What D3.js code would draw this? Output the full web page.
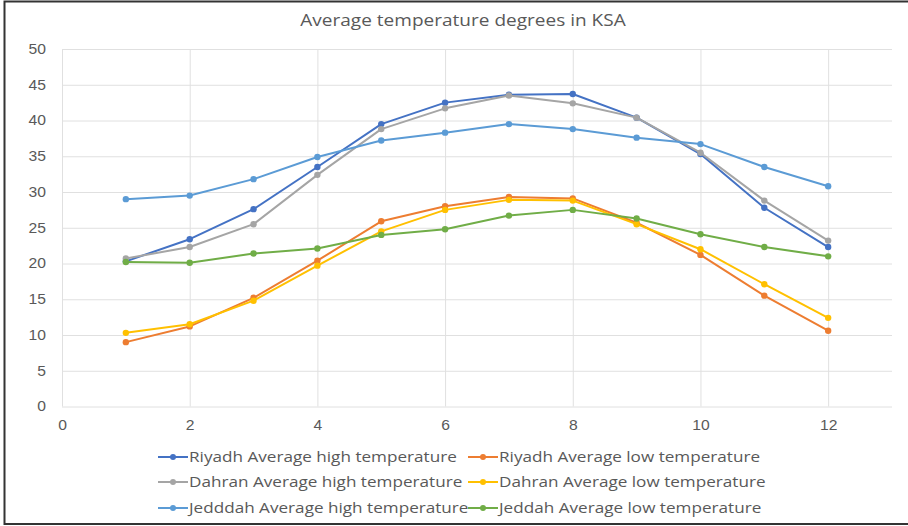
<!DOCTYPE html>
<html>
<head>
<meta charset="utf-8">
<script src="https://cdn.jsdelivr.net/npm/d3@7"></script>
<style>
  html, body { margin: 0; padding: 0; background: #fff; }
  svg { display: block; font-family: 'Open Sans', sans-serif; }
</style>
</head>
<body>
<svg id="chart" width="908" height="526"></svg>
<script>
// Data
const months = [1, 2, 3, 4, 5, 6, 7, 8, 9, 10, 11, 12];
const riyadhHigh = [20.3, 23.4, 27.6, 33.5, 39.5, 42.5, 43.6, 43.7, 40.4, 35.3, 27.8, 22.3];
const riyadhLow = [9.0, 11.2, 15.2, 20.4, 25.9, 28.0, 29.3, 29.1, 25.7, 21.2, 15.5, 10.6];
const dahranHigh = [20.7, 22.3, 25.5, 32.4, 38.8, 41.7, 43.5, 42.4, 40.4, 35.5, 28.8, 23.2];
const dahranLow = [10.3, 11.5, 14.8, 19.7, 24.5, 27.5, 28.9, 28.8, 25.5, 22.0, 17.1, 12.4];
const jeddahHigh = [29.0, 29.5, 31.8, 34.9, 37.2, 38.3, 39.5, 38.8, 37.6, 36.7, 33.5, 30.8];
const jeddahLow = [20.2, 20.1, 21.4, 22.1, 24.0, 24.8, 26.7, 27.5, 26.3, 24.1, 22.3, 21.0];

const xTicks = [0, 2, 4, 6, 8, 10, 12];
const yTicks = [0, 5, 10, 15, 20, 25, 30, 35, 40, 45, 50];

const series = [
  { name: 'Riyadh Average high temperature', values: riyadhHigh, color: '#4472C4' },
  { name: 'Riyadh Average low temperature', values: riyadhLow, color: '#ED7D31' },
  { name: 'Dahran Average high temperature', values: dahranHigh, color: '#A5A5A5' },
  { name: 'Dahran Average low temperature', values: dahranLow, color: '#FFC000' },
  { name: 'Jedddah Average high temperature', values: jeddahHigh, color: '#5B9BD5' },
  { name: 'Jeddah Average low temperature', values: jeddahLow, color: '#70AD47' },
];

const svg = d3.select('#chart');
const width = 908;
const stretch = 1.12; // the source image is a bit wider than tall

// outer frame
svg.append('rect')
  .attr('x', 4.5).attr('y', 1.5)
  .attr('width', width + 10).attr('height', 522.5)
  .attr('fill', 'none')
  .attr('stroke', '#333')
  .attr('stroke-width', 2);

const x = d3.scaleLinear().domain([0, 13]).range([62, 892]);
const y = d3.scaleLinear().domain([0, 50]).range([406.5, 49]);

// title
svg.append('text')
  .attr('transform', `translate(463,26) scale(${stretch},1)`)
  .attr('text-anchor', 'middle')
  .attr('fill', '#595959')
  .style('font-size', '17px')
  .text('Average temperature degrees in KSA');

// gridlines + tick labels
svg.append('g')
  .attr('transform', `translate(0,${y(0)})`)
  .call(d3.axisBottom(x).tickValues(xTicks).tickSize(-(y(0) - y(50))).tickPadding(14))
  .call(g => g.select('.domain').remove())
  .call(g => g.selectAll('line').attr('stroke', '#e0e0e0'))
  .call(g => g.selectAll('text')
    .attr('fill', '#595959')
    .attr('transform', `scale(${stretch},1)`)
    .attr('x', 0)
    .attr('text-anchor', 'middle')
    .style('font-size', '14px'));

svg.append('g')
  .attr('transform', `translate(${x(0)},0)`)
  .call(d3.axisLeft(y).tickValues(yTicks).tickSize(-(x(13) - x(0))).tickPadding(16))
  .call(g => g.select('.domain').remove())
  .call(g => g.selectAll('line').attr('stroke', '#e0e0e0'))
  .call(g => g.selectAll('text')
    .attr('fill', '#595959')
    .attr('x', -16 / stretch)
    .attr('transform', `scale(${stretch},1)`)
    .style('font-size', '14px'));

// lines
const line = d3.line().x((d, i) => x(months[i])).y(d => y(d));

const seriesG = svg.append('g')
  .selectAll('g')
  .data(series)
  .enter()
  .append('g');

seriesG.append('path')
  .attr('d', d => line(d.values))
  .attr('fill', 'none')
  .attr('stroke', d => d.color)
  .attr('stroke-width', 2)
  .attr('stroke-linejoin', 'round');

seriesG.selectAll('circle')
  .data(d => d.values.map(v => ({ v, color: d.color })))
  .enter()
  .append('circle')
  .attr('cx', (d, i) => x(months[i]))
  .attr('cy', d => y(d.v))
  .attr('r', 3.2)
  .attr('fill', d => d.color);

// legend
const legendCols = [158, 468];
const legendRows = [457, 482, 508];
const legend = svg.append('g')
  .selectAll('g')
  .data(series)
  .enter()
  .append('g')
  .attr('transform', (d, i) => `translate(${legendCols[i % 2]},${legendRows[Math.floor(i / 2)]})`);

legend.append('line')
  .attr('x1', 0).attr('x2', 30)
  .attr('stroke', d => d.color)
  .attr('stroke-width', 2);

legend.append('circle')
  .attr('cx', 15).attr('r', 3)
  .attr('fill', d => d.color);

legend.append('text')
  .attr('transform', `translate(31,0) scale(${stretch},1)`)
  .attr('dy', '0.35em')
  .attr('fill', '#595959')
  .style('font-size', '15.3px')
  .text(d => d.name);
</script>
</body>
</html>
